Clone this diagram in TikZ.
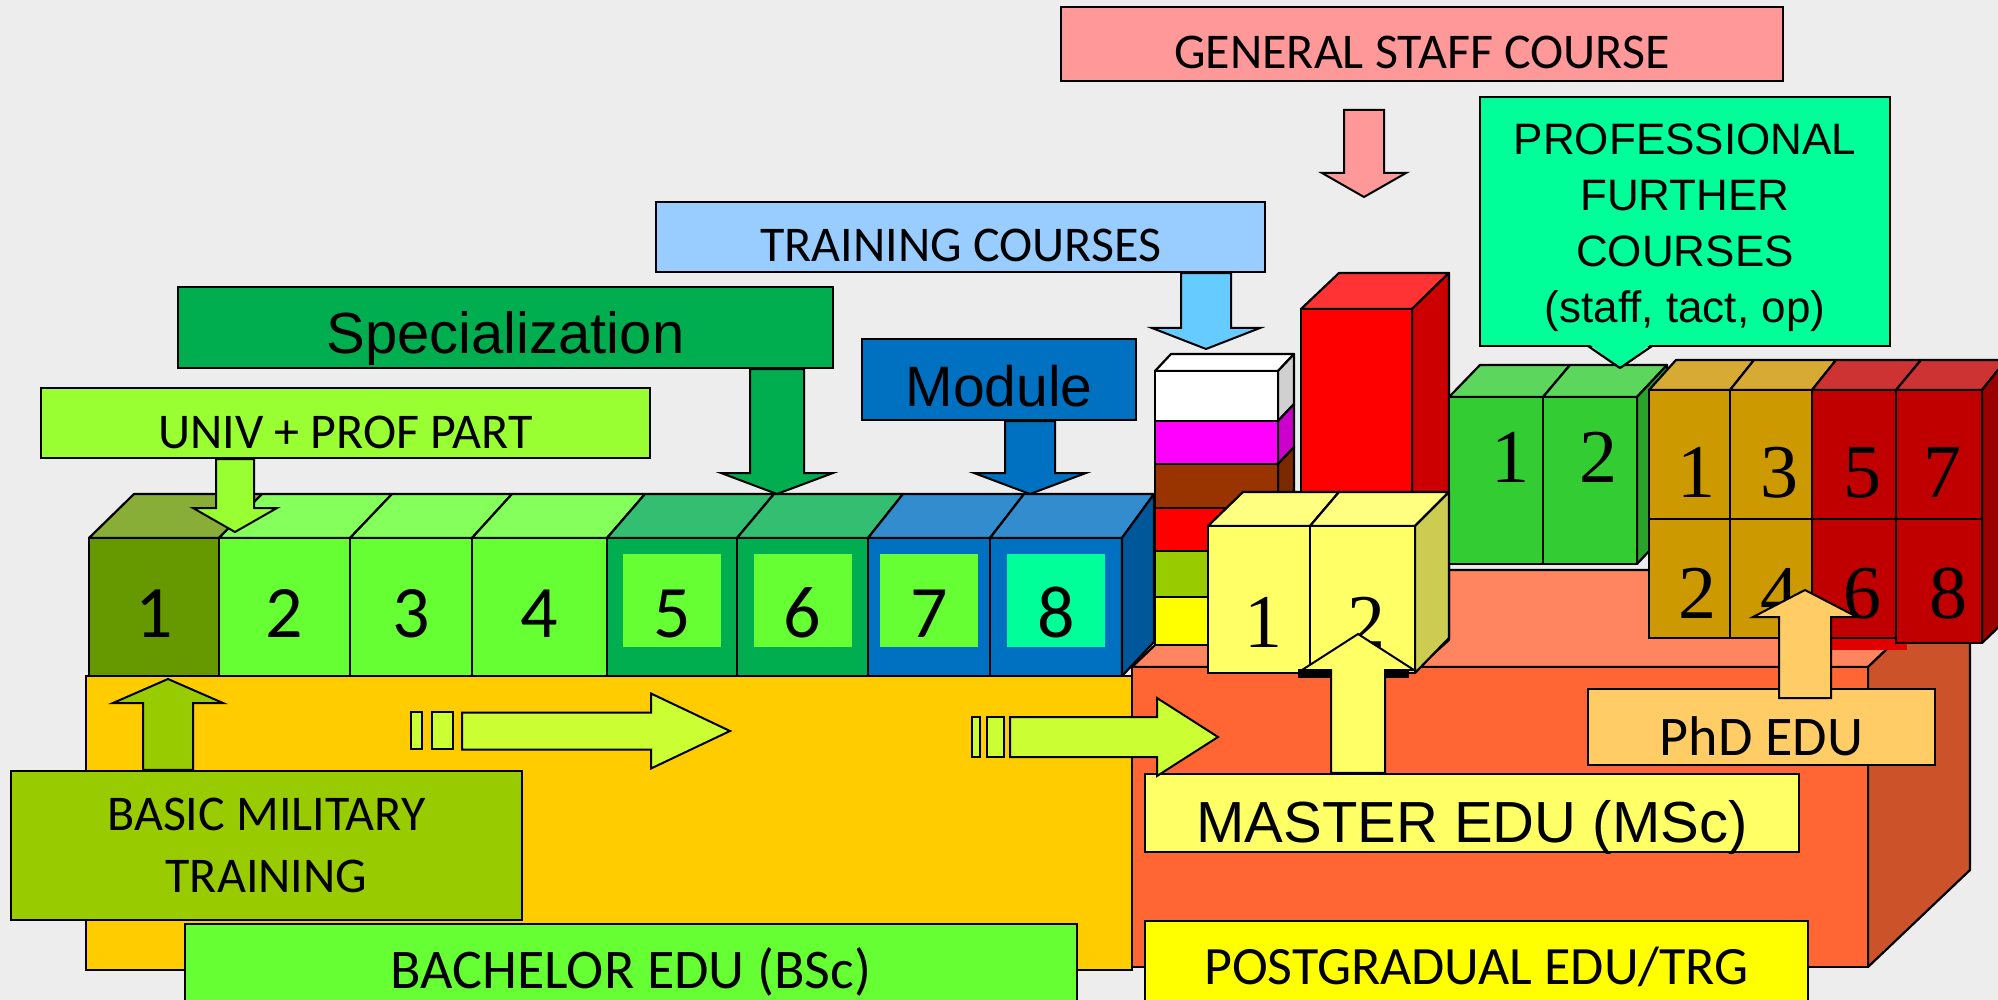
\documentclass[tikz,border=0pt]{standalone}
\usepackage{fontspec}
\setmainfont{Carlito}
\newfontfamily\arialfont{Liberation Sans}
\newfontfamily\serifnum{Liberation Serif}
\usetikzlibrary{calc}

\definecolor{bgGray}{HTML}{EDEDED}
\definecolor{gsPink}{HTML}{FF9999}
\definecolor{trainBlue}{HTML}{99CCFF}
\definecolor{trainArrow}{HTML}{66CCFF}
\definecolor{specGreen}{HTML}{00AD4F}
\definecolor{moduleBlue}{HTML}{0070C0}
\definecolor{univGreen}{HTML}{99FF33}
\definecolor{basicOlive}{HTML}{99CC00}
\definecolor{bachBase}{HTML}{FFCC00}
\definecolor{bachLabel}{HTML}{66FF33}
\definecolor{mscYellow}{HTML}{FFFF66}
\definecolor{pgYellow}{HTML}{FFFF00}
\definecolor{phdOrange}{HTML}{FFCC66}
\definecolor{profGreen}{HTML}{00FF99}
\definecolor{progArrow}{HTML}{CCFF33}
\definecolor{pgFront}{HTML}{FF6633}
\definecolor{pgTop}{HTML}{FF8560}
\definecolor{pgSide}{HTML}{CC5229}
\definecolor{oliveF}{HTML}{669900}
\definecolor{oliveT}{HTML}{88AE38}
\definecolor{limeF}{HTML}{66FF33}
\definecolor{limeT}{HTML}{85FF5C}
\definecolor{specF}{HTML}{00AD4F}
\definecolor{specT}{HTML}{33BE72}
\definecolor{modF}{HTML}{0070C0}
\definecolor{modT}{HTML}{338CCD}
\definecolor{modS}{HTML}{00589A}
\definecolor{innerLime}{HTML}{66FF33}
\definecolor{innerMint}{HTML}{00FF99}
\definecolor{stackWhite}{HTML}{FFFFFF}
\definecolor{stackGray}{HTML}{D0D0D0}
\definecolor{magF}{HTML}{FF00FF}
\definecolor{magS}{HTML}{CC00CC}
\definecolor{brownF}{HTML}{993300}
\definecolor{brownS}{HTML}{7A2900}
\definecolor{redF}{HTML}{FF0000}
\definecolor{redT}{HTML}{FF3333}
\definecolor{redS}{HTML}{CC0000}
\definecolor{oliveS}{HTML}{7AA300}
\definecolor{yellowF}{HTML}{FFFF00}
\definecolor{yellowS}{HTML}{CCCC00}
\definecolor{ylwF}{HTML}{FFFF66}
\definecolor{ylwT}{HTML}{FFFF80}
\definecolor{ylwS}{HTML}{CCCC52}
\definecolor{grnF}{HTML}{33CC33}
\definecolor{grnT}{HTML}{5CD65C}
\definecolor{grnS}{HTML}{29A329}
\definecolor{goldF}{HTML}{CC9900}
\definecolor{goldT}{HTML}{D6AA33}
\definecolor{crimF}{HTML}{C00000}
\definecolor{crimT}{HTML}{CD3333}
\definecolor{crimS}{HTML}{9A0000}
\definecolor{crimBleed}{HTML}{E00000}

% style, tail, tip, half shaft, half head, head length
\newcommand\fatarrow[6]{%
  \path ($(#3)!#6!(#2)$) coordinate (fa-base);
  \draw[#1] ($(#2)!#4!90:(#3)$) -- ($(fa-base)!#4!-90:(#2)$) -- ($(fa-base)!#5!-90:(#2)$) -- (#3)
    -- ($(fa-base)!#5!90:(#2)$) -- ($(fa-base)!#4!90:(#2)$) -- ($(#2)!#4!-90:(#3)$) -- cycle;
}

\begin{document}
\begin{tikzpicture}[x=1pt, y=-1pt,
    line width=2.2pt,
    facet/.style={draw=black, line join=round},
    cellbox/.style={draw=black, inner sep=0pt},
    lbox/.style={draw=black, inner sep=0pt},
    oneline/.style={text height=#1, text depth=0pt},
    calnum/.style={font=\fontsize{74}{74}\selectfont, text height=75pt, text depth=0pt, inner sep=0pt},
    sernum/.style={font=\serifnum\fontsize{76}{76}\selectfont, text height=51pt, text depth=0pt, inner sep=0pt},
    blockarrow/.style={draw=black, line width=2pt, line join=miter}
]
    \clip (0,0) rectangle (1998,1000);
    \fill[bgGray] (0,0) rectangle (1998,1000);

    \filldraw[facet, fill=pgTop] (1132,667) -- (1234,570) -- (1970,570) -- (1868,667) -- cycle;
    \filldraw[facet, fill=pgSide] (1868,667) -- (1970,570) -- (1970,870) -- (1868,967) -- cycle;
    \node[cellbox, fill=bachBase, minimum width=1046pt, minimum height=294pt] (bachbase) at (609,823) {};
    \node[cellbox, fill=pgFront, minimum width=736pt, minimum height=300pt] (pgfront) at (1500,817) {};

    \foreach \xa/\xb/\da/\db/\cf/\ct [count=\i] in {89/219/45/43/oliveF/oliveT, 219/350/43/42/limeF/limeT,
        350/472/42/40/limeF/limeT, 472/607/40/38/limeF/limeT, 607/737/38/37/specF/specT,
        737/868/37/35/specF/specT, 868/990/35/34/modF/modT, 990/1122/34/32/modF/modT} {
        \filldraw[facet, fill=\ct] (\xa,538) -- (\xa+\da,494) -- (\xb+\db,494) -- (\xb,538) -- cycle;
        \node[cellbox, fill=\cf, minimum width={\xb-\xa}, minimum height=138pt] (b\i) at ({(\xa+\xb)/2},607) {};
    }
    \filldraw[facet, fill=modS] (1122,538) -- (1154,494) -- (1154,642) -- (1122,676) -- cycle;
    \foreach \i/\col in {1/none, 2/none, 3/none, 4/none, 5/innerLime, 6/innerLime, 7/innerLime, 8/innerMint}
        \node[calnum, fill=\col, minimum width=98pt, minimum height=93pt] (d\i) at ([yshift=7pt]b\i.center) {\i};

    \filldraw[facet, fill=redT] (1301,309) -- (1339,273) -- (1449,273) -- (1412,309) -- cycle;
    \filldraw[facet, fill=redS] (1412,309) -- (1449,273) -- (1449,640) -- (1412,673) -- cycle;
    \node[cellbox, fill=redF, minimum width=111pt, minimum height=364pt] (tall) at (1356.5,491) {};

    \filldraw[facet, fill=stackWhite] (1155,371) -- (1171,354) -- (1294,354) -- (1278,371) -- cycle;
    \foreach \ya/\yb/\cf/\cs [count=\i] in {371/421/stackWhite/stackGray, 421/464/magF/magS, 464/508/brownF/brownS,
        508/551/redF/redS, 551/597/basicOlive/oliveS, 597/645/yellowF/yellowS} {
        \filldraw[facet, fill=\cs] (1278,\ya) -- (1294,\ya-17) -- (1294,\yb-17) -- (1278,\yb) -- cycle;
        \node[cellbox, fill=\cf, minimum width=123pt, minimum height={\yb-\ya}] (s\i) at (1216.5,{(\ya+\yb)/2}) {};
    }

    \filldraw[facet, fill=grnT] (1449,397) -- (1480,365) -- (1570,365) -- (1543,397) -- cycle;
    \filldraw[facet, fill=grnT] (1543,397) -- (1570,365) -- (1667,365) -- (1637,397) -- cycle;
    \filldraw[facet, fill=grnS] (1637,397) -- (1667,365) -- (1667,532) -- (1637,564) -- cycle;
    \node[cellbox, fill=grnF, minimum width=94pt, minimum height=167pt] (g1) at (1496,480.5) {};
    \node[cellbox, fill=grnF, minimum width=94pt, minimum height=167pt] (g2) at (1590,480.5) {};
    \node[sernum] (gn1) at (1510,457) {1};
    \node[sernum] (gn2) at (1598,457) {2};

    \foreach \xa/\xb/\ba/\bb/\ct in {1649/1730/1676/1754/goldT, 1730/1812/1754/1836/goldT,
        1812/1896/1836/1921/crimT, 1896/1982/1921/2006/crimT}
        \filldraw[facet, fill=\ct] (\xa,390) -- (\ba,360) -- (\bb,360) -- (\xb,390) -- cycle;
    \filldraw[facet, fill=crimS] (1982,390) -- (2006,360) -- (2006,620) -- (1982,643) -- cycle;
    \fill[crimBleed] (1812,630) rectangle (1907,650);
    \foreach \xa/\xb/\yb/\cf/\top/\bot in {1649/1730/638/goldF/1/2, 1730/1812/638/goldF/3/4,
        1812/1896/638/crimF/5/6, 1896/1982/643/crimF/7/8} {
        \node[cellbox, fill=\cf, minimum width={\xb-\xa}, minimum height=129pt] (p\top) at ({(\xa+\xb)/2},454.5) {};
        \node[cellbox, fill=\cf, minimum width={\xb-\xa}, minimum height={\yb-519}] (p\bot) at ({(\xa+\xb)/2},{(519+\yb)/2}) {};
    }
    \foreach \n/\x/\y in {1/1696/472, 3/1779/472, 5/1862/472, 7/1942/472, 2/1697/593, 4/1779/593, 6/1862/593, 8/1948/593}
        \node[sernum] (pn\n) at (\x,\y) {\n};

    \filldraw[facet, fill=ylwT] (1208,526) -- (1243,492) -- (1339,492) -- (1310,526) -- cycle;
    \filldraw[facet, fill=ylwT] (1310,526) -- (1339,492) -- (1449,492) -- (1415,526) -- cycle;
    \filldraw[facet, fill=ylwS] (1415,526) -- (1449,492) -- (1449,638) -- (1415,673) -- cycle;
    \node[cellbox, fill=ylwF, minimum width=102pt, minimum height=147pt] (y1) at (1259,599.5) {};
    \node[cellbox, fill=ylwF, minimum width=105pt, minimum height=147pt] (y2) at (1362.5,599.5) {};
    \node[sernum] (yn1) at (1263,622) {1};
    \node[sernum] (yn2) at (1366,622) {2};

    \node[lbox, fill=gsPink, minimum width=722pt, minimum height=74pt, font=\fontsize{50}{50}\selectfont, oneline=50pt] (gs) at (1422,44) {GENERAL STAFF COURSE};
    \node[lbox, fill=trainBlue, minimum width=609pt, minimum height=70pt, font=\fontsize{50}{50}\selectfont, oneline=50pt] (train) at (960.5,237) {TRAINING COURSES};
    \node[lbox, fill=specGreen, minimum width=655pt, minimum height=81pt, font=\arialfont\fontsize{58}{58}\selectfont, oneline=53pt] (spec) at (505.5,327.5) {Specialization};
    \node[lbox, fill=moduleBlue, minimum width=274pt, minimum height=81pt, font=\arialfont\fontsize{57}{57}\selectfont, oneline=54pt] (module) at (999,379.5) {Module};
    \node[lbox, fill=univGreen, minimum width=609pt, minimum height=70pt, font=\fontsize{50}{50}\selectfont, oneline=50pt] (univ) at (345.5,423) {UNIV + PROF PART};
    \node[lbox, fill=profGreen, minimum width=410pt, minimum height=249pt, align=center, font=\arialfont\fontsize{44}{56}\selectfont] (prof) at (1685,221.5) {\rule{0pt}{44pt}PROFESSIONAL\\FURTHER\\COURSES\\(staff, tact, op)};
    \node[lbox, fill=basicOlive, minimum width=511pt, minimum height=149pt, align=center, font=\fontsize{50}{62}\selectfont] (basic) at (266.5,845.5) {BASIC MILITARY\\TRAINING};
    \node[lbox, fill=bachLabel, minimum width=892pt, minimum height=86pt, font=\fontsize{56}{56}\selectfont, oneline=42pt] (bachlbl) at (631,967) {BACHELOR EDU (BSc)};
    \node[lbox, fill=mscYellow, minimum width=654pt, minimum height=78pt, font=\arialfont\fontsize{58}{58}\selectfont, oneline=59pt] (msc) at (1472,813) {MASTER EDU (MSc)};
    \node[lbox, fill=phdOrange, minimum width=347pt, minimum height=76pt, font=\fontsize{56}{56}\selectfont, oneline=56pt] (phd) at (1761.5,727) {PhD EDU};
    \node[lbox, fill=pgYellow, minimum width=663pt, minimum height=89pt, font=\fontsize{54}{54}\selectfont, oneline=38pt] (pglbl) at (1476.5,965.5) {POSTGRADUAL EDU/TRG};

    \fill[profGreen] (1589,344) -- (1620,368) -- (1651,344) -- cycle;
    \draw[line join=round] (1588,346) -- (1620,368) -- (1652,346);

    \coordinate (univTip) at (235,532);
    \coordinate (univTail) at (univ.south -| univTip);
    \coordinate (specTip) at (777,494);
    \coordinate (specTail) at (spec.south -| specTip);
    \coordinate (moduleTip) at (1030,494);
    \coordinate (moduleTail) at (module.south -| moduleTip);
    \coordinate (trainTip) at (1206,349);
    \coordinate (trainTail) at (train.south -| trainTip);
    \coordinate (gsTip) at (1364,197);
    \coordinate (gsTail) at (1364,110);
    \coordinate (basicTip) at (168,679);
    \coordinate (basicTail) at (basic.north -| basicTip);
    \coordinate (mscTip) at (1358,634);
    \coordinate (mscTail) at (msc.north -| mscTip);
    \coordinate (phdTip) at (1805,590);
    \coordinate (phdTail) at (1805,698);
    \coordinate (stepTail) at (462,731);
    \coordinate (stepTip) at (730,731);
    \coordinate (passTail) at (1010,737);
    \coordinate (passTip) at (1218,737);

    \fatarrow{blockarrow, fill=univGreen}{univTail}{univTip}{19pt}{42pt}{24pt}
    \fatarrow{blockarrow, fill=specGreen}{specTail}{specTip}{27pt}{56pt}{21pt}
    \fatarrow{blockarrow, fill=moduleBlue}{moduleTail}{moduleTip}{25pt}{56pt}{21pt}
    \fatarrow{blockarrow, fill=trainArrow}{trainTail}{trainTip}{25pt}{54pt}{21pt}
    \fatarrow{blockarrow, fill=gsPink}{gsTail}{gsTip}{20pt}{42pt}{24pt}
    \fatarrow{blockarrow, fill=basicOlive}{basicTail}{basicTip}{25pt}{55pt}{24pt}
    \fill[black] (1298,669) rectangle (1409,678);
    \fatarrow{blockarrow, fill=mscYellow}{mscTail}{mscTip}{27pt}{56pt}{36pt}
    \fatarrow{blockarrow, fill=phdOrange}{phdTail}{phdTip}{26pt}{52pt}{27pt}

    \draw[blockarrow, fill=progArrow] (411,712) rectangle (422,749);
    \draw[blockarrow, fill=progArrow] (432,712) rectangle (453,749);
    \fatarrow{blockarrow, fill=progArrow}{stepTail}{stepTip}{18.5pt}{37.5pt}{79pt}
    \draw[blockarrow, fill=progArrow] (972,717) rectangle (980,757);
    \draw[blockarrow, fill=progArrow] (987,717) rectangle (1004,757);
    \fatarrow{blockarrow, fill=progArrow}{passTail}{passTip}{20pt}{39pt}{61pt}
\end{tikzpicture}
\end{document}
